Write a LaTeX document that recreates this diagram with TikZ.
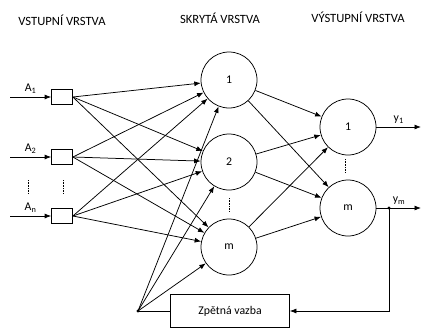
\documentclass[tikz,border=0pt]{standalone}
\usepackage{fontspec}
\setmainfont{Carlito}
\usetikzlibrary{arrows.meta}
\begin{document}
\begin{tikzpicture}[x=1pt,y=-1pt,
  every node/.style={font=\fontsize{11.8}{14}\selectfont},
  neuron/.style={draw,circle,minimum size=56pt,inner sep=0pt,line width=0.75pt},
  inbox/.style={draw,minimum width=21pt,minimum height=15pt,inner sep=0pt,line width=0.75pt},
  fbbox/.style={draw,minimum width=119pt,minimum height=33pt,inner sep=0pt,line width=0.75pt},
  head/.style={font=\fontsize{12.6}{14}\selectfont},
  conn/.style={line width=0.75pt,-{Latex[length=6.5pt,width=5pt]}},
  plain/.style={line width=0.75pt},
  vdots/.style={densely dotted,line width=0.6pt}]
\useasboundingbox (0,0) rectangle (422,329);

% layer titles
\node[head] (t1) at (62,20) {VSTUPNÍ VRSTVA};
\node[head] (t2) at (220,18) {SKRYTÁ VRSTVA};
\node[head] (t3) at (358,17) {VÝSTUPNÍ VRSTVA};

% input layer
\node[inbox] (b1) at (62,97) {};
\node[inbox] (b2) at (62,157) {};
\node[inbox] (bn) at (62,216) {};
\coordinate (a1) at (10,97);
\coordinate (a2) at (10,157);
\coordinate (an) at (10,216);
\draw[conn] (a1) -- node[above=0pt,pos=0.5] (la1) {A\textsubscript{1}} (b1);
\draw[conn] (a2) -- node[above=0pt,pos=0.5] (la2) {A\textsubscript{2}} (b2);
\draw[conn] (an) -- node[above=0pt,pos=0.5] (lan) {A\textsubscript{n}} (bn);
\coordinate (d1a) at (28,180); \coordinate (d1b) at (28,194);
\coordinate (d2a) at (63,180); \coordinate (d2b) at (63,194);
\draw[vdots] (d1a) -- (d1b);
\draw[vdots] (d2a) -- (d2b);

% hidden layer
\node[neuron] (h1) at (229,80) {1};
\node[neuron] (h2) at (229,162) {2};
\node[neuron] (hm) at (229,247) {m};
\coordinate (d3a) at (229,198); \coordinate (d3b) at (229,212);
\draw[vdots] (d3a) -- (d3b);

% output layer
\node[neuron] (o1) at (348,127) {1};
\node[neuron] (om) at (348,208) {m};
\coordinate (d4a) at (345,159); \coordinate (d4b) at (345,173);
\draw[vdots] (d4a) -- (d4b);

% input -> hidden
\foreach \b in {b1,b2,bn}
  \foreach \h in {h1,h2,hm}
    \draw[conn] (\b.east) -- (\h);

% hidden -> output
\foreach \h in {h1,h2,hm}
  \foreach \o in {o1,om}
    \draw[conn] (\h) -- (\o);

% outputs
\coordinate (y1) at (421,127);
\coordinate (ym) at (421,208);
\coordinate (tap) at (389,208);
\draw[conn] (o1.east) -- node[above=0pt,pos=0.5] (ly1) {y\textsubscript{1}} (y1);
\draw[plain] (om.east) -- (tap);
\draw[conn] (tap) -- (ym);
\node[above=0pt] (lym) at (399,208) {y\textsubscript{m}};
\fill (tap) circle (1.6pt);

% feedback
\node[fbbox] (fb) at (230,311) {Zpětná vazba};
\coordinate (fr) at (389,311);
\coordinate (fd) at (138,311);
\draw[conn] (tap) -- (fr) -- (fb.east);
\draw[plain] (fb.west) -- (fd);
\fill (fd) circle (1.6pt);
\foreach \h in {h1,h2,hm}
  \draw[conn] (fd) -- (\h);
\end{tikzpicture}
\end{document}
